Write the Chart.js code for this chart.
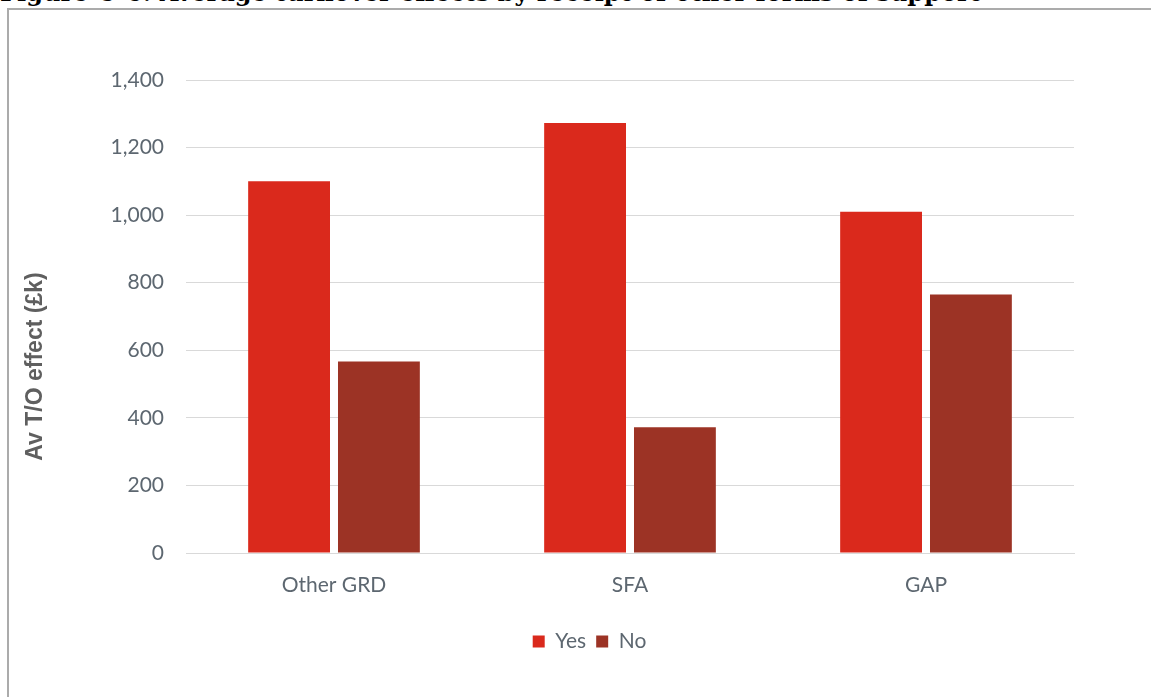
<!DOCTYPE html>
<html>
 <head>
  <meta charset="utf-8" />
  <title>Average turnover effects</title>
  <style>
    html, body { margin: 0; padding: 0; background: #fff; overflow: hidden; }
    body { width: 1151px; height: 697px; position: relative; }
    #fig-title {
      position: absolute; left: 0; top: -22px; margin: 0;
      font-family: "DejaVu Serif", "Liberation Serif", serif;
      font-weight: bold; font-size: 24px; color: #000; white-space: nowrap;
    }
    #frame {
      position: absolute; left: 7px; top: 8px; width: 1165px; height: 700px;
      border: 2px solid #ababab; box-sizing: border-box;
    }
  </style>
 </head>
 <body>
    <p id="fig-title">Figure C-6: Average turnover effects by receipt of other forms of support</p>
    <div id="frame"><canvas id="toChart" width="1161" height="696"></canvas></div>

    <script src="https://cdnjs.cloudflare.com/ajax/libs/Chart.js/4.4.1/chart.umd.min.js"></script>
  <script>

// support types and average turnover effect (£k)
const supportTypes = ['Other GRD', 'SFA', 'GAP'];
const yesValues = [1100, 1273, 1010];
const noValues  = [567, 372, 765];
const seriesNames = ['Yes', 'No'];

const tickGrey = '#5d6770';
const gridGrey = '#d9d9d9';
const labelFont = { family: "'Lato', 'Open Sans', sans-serif", size: 21 };

// y axis title sits a bit below the plot's middle, so draw it by hand
const yTitle = {
  id: 'yTitle',
  afterDraw(chart) {
    const ctx = chart.ctx;
    const a = chart.chartArea;
    ctx.save();
    ctx.translate(27, (a.top + a.bottom) / 2 + 50);
    ctx.rotate(-Math.PI / 2);
    ctx.font = "bold 23px 'Liberation Sans', Arial, sans-serif";
    ctx.fillStyle = '#5f5f5f';
    ctx.textAlign = 'center';
    ctx.textBaseline = 'middle';
    ctx.fillText('Av T/O effect (£k)', 0, 0);
    ctx.restore();
  }
};

new Chart(document.getElementById('toChart'), {
  type: 'bar',
  data: {
    labels: supportTypes,
    datasets: [
      { label: seriesNames[0], data: yesValues, backgroundColor: '#da291c' },
      { label: seriesNames[1], data: noValues,  backgroundColor: '#9c3325' }
    ]
  },
  options: {
    responsive: false,
    animation: false,
    layout: { padding: { top: 70, right: 0, left: 0, bottom: 44 } },
    datasets: { bar: { categoryPercentage: 0.607, barPercentage: 0.911 } },
    plugins: {
      tooltip: { enabled: false },
      legend: {
        position: 'bottom',
        labels: {
          color: tickGrey, font: labelFont,
          boxWidth: 12, boxHeight: 12, padding: 10
        }
      }
    },
    scales: {
      x: {
        grid: { display: false, drawTicks: false },
        border: { color: gridGrey },
        ticks: { color: tickGrey, font: labelFont, padding: 20 },
        afterFit(scale) { scale.height = 68; }
      },
      y: {
        min: 0, max: 1400,
        grid: { color: gridGrey, drawTicks: false },
        border: { display: false },
        ticks: {
          stepSize: 200, color: tickGrey, font: labelFont, padding: 22,
          callback: v => v.toLocaleString('en-GB')
        },
        afterFit(scale) { scale.width = 177; }
      },
      // empty right-hand margin so the legend stays centred on the frame
      spacer: {
        position: 'right',
        grid: { display: false, drawTicks: false },
        border: { display: false },
        ticks: { display: false },
        afterFit(scale) { scale.width = 96; }
      }
    }
  },
  plugins: [yTitle]
});

  </script>
</body>
</html>
